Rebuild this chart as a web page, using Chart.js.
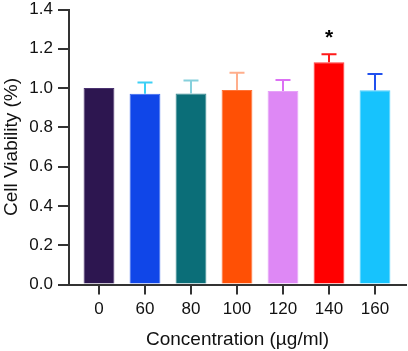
<!DOCTYPE html>
<html><head><meta charset="utf-8">
<script src="https://cdn.jsdelivr.net/npm/chart.js@4"></script>
<style>html,body{margin:0;padding:0;background:#fff}#wrap{width:408px;height:351px}</style>
</head><body><div id="wrap"><canvas id="c" width="408" height="351"></canvas></div>
<script>
const categories = ['0', '60', '80', '100', '120', '140', '160'];
const viability = [1.000, 0.971, 0.973, 0.990, 0.985, 1.131, 0.989];
const errors = [0, 0.058, 0.065, 0.088, 0.056, 0.041, 0.083];
const significance = ['', '', '', '', '', '*', ''];
const yTickValues = [0.0, 0.2, 0.4, 0.6, 0.8, 1.0, 1.2, 1.4];
const barColors = ['#2d1650', '#1046e8', '#0b6e78', '#ff5005', '#de88f5', '#ff0000', '#17c3fd'];
const barBorders = ['#4a3270', '#3a68f0', '#3a8a92', '#ff7236', '#e6a2f8', '#ff3a3a', '#4fd0fd'];
const errColors = ['#000000', '#3cd0f5', '#86d0dc', '#ffae8c', '#dc70f4', '#ff1a1a', '#2050ee'];

const FONT = '"Liberation Sans", Arial, Helvetica, sans-serif';
const AXIS = '#333333';

const errPlugin = {
  id: 'errbars',
  afterDatasetsDraw(chart) {
    const ctx = chart.ctx, y = chart.scales.y;
    const meta = chart.getDatasetMeta(0);
    ctx.save();
    meta.data.forEach((bar, i) => {
      const topPx = y.getPixelForValue(viability[i] + errors[i]);
      if (errors[i] > 0) {
        ctx.strokeStyle = errColors[i];
        ctx.lineWidth = 2;
        ctx.beginPath();
        ctx.moveTo(bar.x, bar.y);
        ctx.lineTo(bar.x, topPx);
        ctx.moveTo(bar.x - 7.5, topPx);
        ctx.lineTo(bar.x + 7.5, topPx);
        ctx.stroke();
      }
      if (significance[i]) {
        ctx.fillStyle = '#000';
        ctx.font = 'bold 21px ' + FONT;
        ctx.textAlign = 'center';
        ctx.textBaseline = 'alphabetic';
        ctx.fillText(significance[i], bar.x, topPx - 10);
      }
    });
    ctx.restore();
  }
};

new Chart(document.getElementById('c'), {
  type: 'bar',
  data: {
    datasets: [{
      data: viability.map((v, i) => ({ x: i, y: v })),
      backgroundColor: barColors,
      borderColor: barBorders,
      borderWidth: 1,
      barPercentage: 0.67,
      categoryPercentage: 1.0
    }]
  },
  options: {
    responsive: false,
    animation: false,
    layout: { padding: { top: 9.5, right: 2, left: 0, bottom: 0 } },
    plugins: { legend: { display: false }, tooltip: { enabled: false } },
    scales: {
      x: {
        type: 'linear',
        offset: false,
        min: -0.652,
        max: 6.674,
        afterFit(s) { s.height = 66.5; s.paddingLeft = 0; s.paddingRight = 0; },
        afterBuildTicks(s) { s.ticks = categories.map((c, i) => ({ value: i })); },
        grid: { offset: false, drawOnChartArea: false, color: AXIS, lineWidth: 2, tickLength: 10 },
        border: { color: AXIS, width: 2 },
        ticks: {
          color: '#111',
          font: { family: FONT, size: 17 },
          padding: 5,
          autoSkip: false,
          maxRotation: 0,
          callback: (v) => categories[v]
        },
        title: {
          display: true,
          text: 'Concentration (µg/ml)',
          color: '#111',
          font: { family: FONT, size: 19 },
          padding: { top: 0, bottom: 0 }
        }
      },
      y: {
        min: 0,
        max: 1.4,
        afterFit(s) { s.width = 69; s.paddingTop = 0; s.paddingBottom = 0; },
        afterBuildTicks(s) { s.ticks = yTickValues.map(v => ({ value: v })); },
        grid: { drawOnChartArea: false, color: AXIS, lineWidth: 2, tickLength: 11 },
        border: { color: AXIS, width: 2 },
        ticks: {
          color: '#111',
          font: { family: FONT, size: 17 },
          padding: 5,
          callback: (v) => Number(v).toFixed(1)
        },
        title: {
          display: true,
          text: 'Cell Viability (%)',
          color: '#111',
          font: { family: FONT, size: 19 },
          padding: { top: 0, bottom: 0 }
        }
      }
    }
  },
  plugins: [errPlugin]
});
</script>
</body></html>
